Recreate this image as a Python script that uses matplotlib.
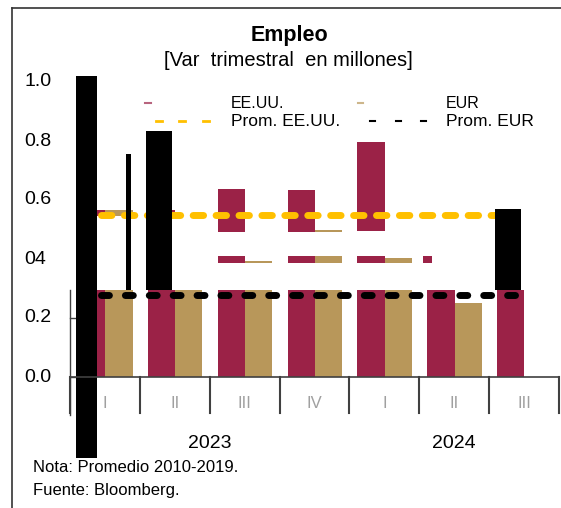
import numpy as np
import matplotlib.pyplot as plt
from matplotlib.lines import Line2D

plt.rcParams['font.family'] = ['Liberation Sans', 'DejaVu Sans']

# datos (var. trimestral, millones)
quarters = ['I', 'II', 'III', 'IV', 'I', 'II', 'III']
years = ['2023', '2024']
usa = [0.295, 0.295, 0.295, 0.295, 0.295, 0.295, 0.295]
eur = [0.295, 0.295, 0.295, 0.295, 0.295, 0.25, 0.0]

# tramos sueltos de las barras (base, tope)
usa_hi_lo = [0.546, 0.546, 0.49, 0.49, 0.495, np.nan, np.nan]
usa_hi_hi = [0.566, 0.566, 0.637, 0.634, 0.797, np.nan, np.nan]
eur_hi_lo = [0.546, np.nan, np.nan, 0.49, np.nan, np.nan, np.nan]
eur_hi_hi = [0.566, np.nan, np.nan, 0.498, np.nan, np.nan, np.nan]
usa_mid_lo = [np.nan, np.nan, 0.386, 0.386, 0.386, 0.386, np.nan]
usa_mid_hi = [np.nan, np.nan, 0.41, 0.41, 0.41, 0.41, np.nan]
eur_mid_lo = [np.nan, np.nan, 0.386, 0.386, 0.386, np.nan, np.nan]
eur_mid_hi = [np.nan, np.nan, 0.393, 0.41, 0.403, np.nan, np.nan]

# barras negras
black_x = [0.236, 0.84, 1.27, 6.27]
black_w = [0.30, 0.07, 0.37, 0.36]
black_lo = [-0.275, 0.295, 0.295, 0.295]
black_hi = [1.02, 0.756, 0.834, 0.57]

prom_usa = 0.55
prom_eur = 0.278

yticks = [0.0, 0.2, 0.4, 0.6, 0.8, 1.0]
ylabels = ['0.0', '0.2', '04', '0.6', '0.8', '1.0']

maroon = '#9B2247'
tan = '#B8975A'
yellow = '#FFC000'

W, H = 561, 508
fig = plt.figure(figsize=(W / 100, H / 100), dpi=100)

def fx(x):
    return x / W

def fy(y):
    return 1 - y / H

# ejes: x 0..7 -> px 70..559 ; y: v -> 377 - 295 v
ylo, yhi = -0.3, 1.05
ax = fig.add_axes([fx(70), fy(377 + 295 * -ylo), 489 / W, 295 * (yhi - ylo) / H])
ax.set_xlim(0, 7)
ax.set_ylim(ylo, yhi)
ax.axis('off')

x = np.arange(7)
bw = 0.39
xu = x + 0.31
xe = x + 0.70
ax.bar(xu, usa, bw, color=maroon, zorder=2)
ax.bar(xe, eur, bw, color=tan, zorder=2)

def seg(xs, lo, hi, color, width=bw):
    lo = np.array(lo)
    hi = np.array(hi)
    ok = ~np.isnan(lo)
    ax.bar(np.array(xs, dtype=float)[ok], (hi - lo)[ok], width, bottom=lo[ok],
           color=color, zorder=2)

seg(xu, usa_hi_lo, usa_hi_hi, maroon)
seg(xe, eur_hi_lo, eur_hi_hi, tan)
seg(xu[:5], usa_mid_lo[:5], usa_mid_hi[:5], maroon)
seg(xu[5:6] - 0.19, usa_mid_lo[5:6], usa_mid_hi[5:6], maroon, width=0.13)
seg(xe, eur_mid_lo, eur_mid_hi, tan)

ax.bar(black_x, np.array(black_hi) - np.array(black_lo), black_w, bottom=black_lo,
       color='black', zorder=4, clip_on=False)

# promedios
ax.plot([0.45, 6.11], [prom_usa, prom_usa], color=yellow, lw=5,
        dashes=(1.5, 1.8), dash_capstyle='round', zorder=3)
ax.plot([0.45, 6.48], [prom_eur, prom_eur], color='black', lw=5,
        dashes=(1.14, 2.3), dash_capstyle='round', zorder=5)

# eje x y marcas de categoria
axc = '#404040'
ax.plot([0, 7], [0, 0], color=axc, lw=1.2, zorder=6, clip_on=False)
for i in range(8):
    ax.plot([i, i], [0, -0.122], color=axc, lw=1.5, zorder=6, clip_on=False)
ax.plot([0, 0], [0.295, -0.129], color=axc, lw=1.0, zorder=1, clip_on=False)
for t in [0.0, 0.2]:
    ax.plot([0, 0.07], [t, t], color=axc, lw=1.0, zorder=1, clip_on=False)

for i, q in enumerate(quarters):
    ax.text(i + 0.5, -0.09, q, ha='center', va='center', fontsize=12, color='#a0a0a0')
fig.text(fx(210), fy(443), years[0], ha='center', va='center', fontsize=14)
fig.text(fx(454), fy(443), years[1], ha='center', va='center', fontsize=14)

for t, lab in zip(yticks, ylabels):
    fig.text(fx(24), fy(377 - 295 * t), lab, ha='left', va='center', fontsize=14)

fig.text(fx(289), fy(36), 'Empleo', ha='center', va='center', fontsize=15.5, fontweight='bold')
fig.text(fx(288), fy(60), '[Var  trimestral  en millones]', ha='center', va='center', fontsize=14.5)

# leyenda
fig.add_artist(Line2D([fx(145), fx(151)], [fy(103), fy(103)], color=maroon, lw=1.5, alpha=0.7))
fig.add_artist(Line2D([fx(358), fx(363)], [fy(103), fy(103)], color=tan, lw=1.5, alpha=0.7))
for xx in [156, 179, 203]:
    fig.add_artist(Line2D([fx(xx), fx(xx + 6)], [fy(121), fy(121)], color=yellow, lw=2))
for xx in [370, 396, 421]:
    fig.add_artist(Line2D([fx(xx), fx(xx + 5)], [fy(121), fy(121)], color='black', lw=1.5))
fig.text(fx(231), fy(103), 'EE.UU.', ha='left', va='center', fontsize=11.5)
fig.text(fx(446), fy(103), 'EUR', ha='left', va='center', fontsize=11.5)
fig.text(fx(231), fy(121), 'Prom. EE.UU.', ha='left', va='center', fontsize=12.5)
fig.text(fx(446), fy(121), 'Prom. EUR', ha='left', va='center', fontsize=12.5)

fig.text(fx(33), fy(467), 'Nota: Promedio 2010-2019.', ha='left', va='center', fontsize=12)
fig.text(fx(33), fy(491), 'Fuente: Bloomberg.', ha='left', va='center', fontsize=12)

# marco
fig.add_artist(Line2D([fx(12), fx(12)], [fy(8), 0], color='#333333', lw=1.2))
fig.add_artist(Line2D([fx(12), 1], [fy(8), fy(8)], color='#333333', lw=1.2))

fig.savefig('out.png', dpi=100)
